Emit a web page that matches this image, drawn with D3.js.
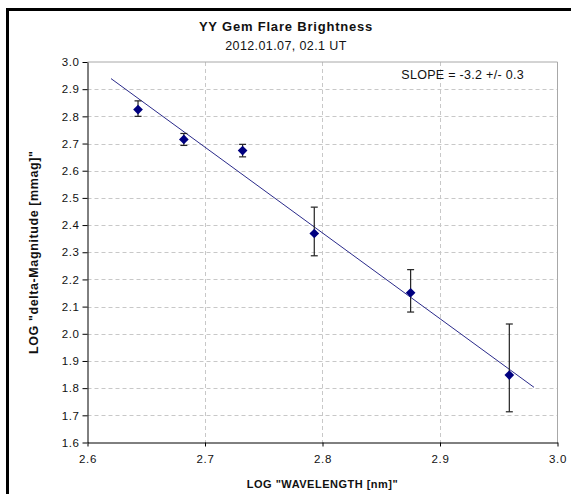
<!DOCTYPE html>
<html>
<head>
<meta charset="utf-8">
<title>YY Gem Flare Brightness</title>
<script src="https://cdn.jsdelivr.net/npm/d3@7"></script>
<style>
  body { margin: 0; background: #fff; }
  text { font-family: Arial, "Liberation Sans", sans-serif; fill: #111; }
</style>
</head>
<body>
<div id="chart"></div>
<script>
// data
const logWavelength = [2.643, 2.682, 2.732, 2.793, 2.875, 2.959];
const logDeltaMag = [2.825, 2.715, 2.674, 2.369, 2.151, 1.848];
const errUp = [0.032, 0.022, 0.023, 0.097, 0.085, 0.188];
const errDown = [0.025, 0.022, 0.023, 0.082, 0.071, 0.135];
// fitted line end points
const fitX = [2.62, 2.98];
const fitY = [2.939, 1.803];
const xTicks = [2.6, 2.7, 2.8, 2.9, 3.0];
const yTicks = [1.6, 1.7, 1.8, 1.9, 2.0, 2.1, 2.2, 2.3, 2.4, 2.5, 2.6, 2.7, 2.8, 2.9, 3.0];

const width = 571, height = 494;
const plot = { left: 87.5, right: 557.5, top: 62, bottom: 442.5 };

const svg = d3.select("#chart").append("svg")
  .attr("width", width)
  .attr("height", height);

// outer frame (runs off right and bottom edge)
svg.append("path")
  .attr("d", `M7.5,${height + 5} V9.5 H${width + 5}`)
  .attr("fill", "none")
  .attr("stroke", "#000")
  .attr("stroke-width", 3);

const x = d3.scaleLinear().domain([2.6, 3.0]).range([plot.left, plot.right]);
const y = d3.scaleLinear().domain([1.6, 3.0]).range([plot.bottom, plot.top]);

// grid
svg.append("g")
  .selectAll("line")
  .data(yTicks.slice(1, -1))
  .enter().append("line")
  .attr("x1", plot.left).attr("x2", plot.right)
  .attr("y1", d => Math.round(y(d)) + 0.5).attr("y2", d => Math.round(y(d)) + 0.5)
  .attr("stroke", "#c8c8c8")
  .attr("stroke-dasharray", "4,3");

svg.append("g")
  .selectAll("line")
  .data(xTicks.slice(1, -1))
  .enter().append("line")
  .attr("y1", plot.top).attr("y2", plot.bottom)
  .attr("x1", d => Math.round(x(d)) + 0.5).attr("x2", d => Math.round(x(d)) + 0.5)
  .attr("stroke", "#c8c8c8")
  .attr("stroke-dasharray", "4,3");

// top and right border of plot area
svg.append("path")
  .attr("d", `M${plot.left},${plot.top} H${plot.right} V${plot.bottom}`)
  .attr("fill", "none")
  .attr("stroke", "#a8a8a8");

// axes
svg.append("g")
  .attr("transform", `translate(0,${plot.bottom})`)
  .call(d3.axisBottom(x).tickValues(xTicks).tickFormat(d3.format(".1f")).tickSize(4).tickSizeOuter(0))
  .call(g => g.select(".domain").attr("stroke", "#000"))
  .call(g => g.selectAll("text").attr("font-size", 11.5).attr("dy", "1.15em").attr("letter-spacing", 0.6));

svg.append("g")
  .attr("transform", `translate(${plot.left},0)`)
  .call(d3.axisLeft(y).tickValues(yTicks).tickFormat(d3.format(".1f")).tickSize(5).tickSizeOuter(0))
  .call(g => g.select(".domain").attr("stroke", "#000"))
  .call(g => g.selectAll("text").attr("font-size", 11.5).attr("x", -8).attr("letter-spacing", 0.6));

// fit line
svg.append("line")
  .attr("x1", x(fitX[0])).attr("y1", y(fitY[0]))
  .attr("x2", x(fitX[1])).attr("y2", y(fitY[1]))
  .attr("stroke", "#2a2a8a")
  .attr("stroke-width", 1);

// error bars
const pts = logWavelength.map((v, i) => ({ x: v, y: logDeltaMag[i], up: errUp[i], down: errDown[i] }));

const eb = svg.append("g").attr("stroke", "#222").attr("stroke-width", 1.2);
eb.selectAll(".stem").data(pts).enter().append("line")
  .attr("x1", d => x(d.x)).attr("x2", d => x(d.x))
  .attr("y1", d => y(d.y + d.up)).attr("y2", d => y(d.y - d.down));
eb.selectAll(".capTop").data(pts).enter().append("line")
  .attr("x1", d => x(d.x) - 3.5).attr("x2", d => x(d.x) + 3.5)
  .attr("y1", d => y(d.y + d.up)).attr("y2", d => y(d.y + d.up));
eb.selectAll(".capBot").data(pts).enter().append("line")
  .attr("x1", d => x(d.x) - 3.5).attr("x2", d => x(d.x) + 3.5)
  .attr("y1", d => y(d.y - d.down)).attr("y2", d => y(d.y - d.down));

// diamonds
svg.append("g")
  .selectAll("path")
  .data(pts)
  .enter().append("path")
  .attr("d", d3.symbol(d3.symbolDiamond2, 60))
  .attr("transform", d => `translate(${x(d.x)},${y(d.y)})`)
  .attr("fill", "#000080");

// texts
svg.append("text")
  .attr("x", 286).attr("y", 31)
  .attr("text-anchor", "middle")
  .attr("font-size", 13).attr("font-weight", "bold")
  .attr("letter-spacing", 0.8)
  .text("YY Gem Flare Brightness");

svg.append("text")
  .attr("x", 286).attr("y", 50)
  .attr("text-anchor", "middle")
  .attr("font-size", 12.5)
  .attr("letter-spacing", 0.4)
  .text("2012.01.07, 02.1 UT");

svg.append("text")
  .attr("x", 524).attr("y", 79)
  .attr("text-anchor", "end")
  .attr("font-size", 12.5)
  .attr("letter-spacing", 0.3)
  .text("SLOPE = -3.2 +/- 0.3");

svg.append("text")
  .attr("x", (plot.left + plot.right) / 2).attr("y", 488)
  .attr("text-anchor", "middle")
  .attr("font-size", 11).attr("font-weight", "bold")
  .attr("letter-spacing", 0.5)
  .text('LOG "WAVELENGTH [nm]"');

svg.append("text")
  .attr("transform", `translate(38,${(plot.top + plot.bottom) / 2}) rotate(-90)`)
  .attr("text-anchor", "middle")
  .attr("font-size", 12.5).attr("font-weight", "bold")
  .attr("letter-spacing", 0.6)
  .text('LOG "delta-Magnitude [mmag]"');
</script>
</body>
</html>
